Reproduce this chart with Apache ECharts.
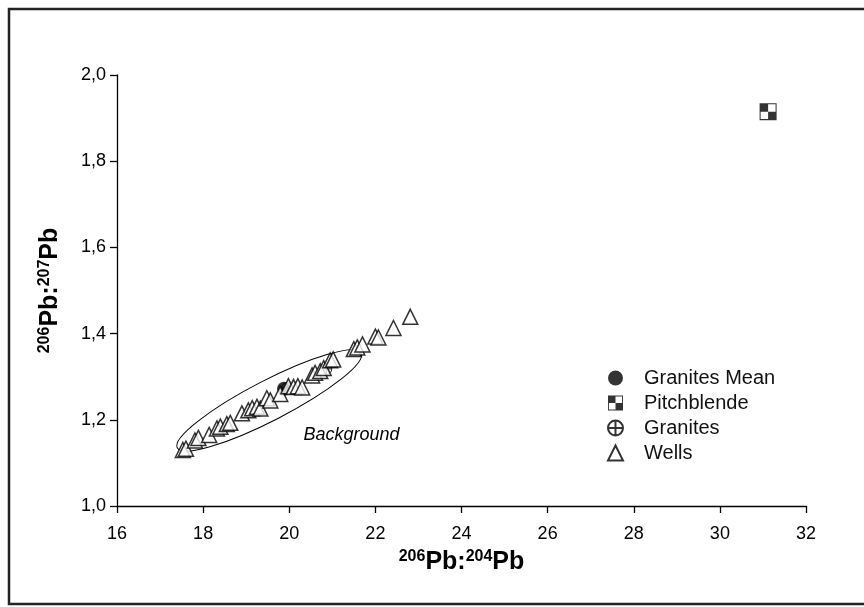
<!DOCTYPE html>
<html>
<head>
<meta charset="utf-8">
<script src="https://cdn.jsdelivr.net/npm/echarts@6/dist/echarts.min.js"></script>
<style>
    html, body { margin: 0; padding: 0; background: #fff; }
    #chart { width: 864px; height: 607px; }
</style>
</head>
<body>
<div id="chart"></div>
<script>
// 206Pb/204Pb vs 206Pb/207Pb
const wells = [
    [17.53, 1.130], [17.60, 1.133], [17.81, 1.152], [17.89, 1.158],
    [18.14, 1.165], [18.32, 1.180], [18.40, 1.184], [18.55, 1.190],
    [18.63, 1.193], [18.90, 1.215], [19.05, 1.222], [19.14, 1.227],
    [19.25, 1.230], [19.33, 1.226], [19.48, 1.250], [19.56, 1.245],
    [19.79, 1.260], [19.98, 1.278], [20.10, 1.276], [20.20, 1.278],
    [20.30, 1.275], [20.53, 1.303], [20.60, 1.309], [20.72, 1.313],
    [20.80, 1.320], [20.95, 1.338], [21.02, 1.340], [21.50, 1.364],
    [21.58, 1.368], [21.70, 1.375], [22.00, 1.393], [22.07, 1.391],
    [22.42, 1.413], [22.81, 1.439]
];
const granites = [[20.86, 1.318], [19.95, 1.274]];
const granitesMean = [[19.88, 1.272]];
const pitchblende = [[31.12, 1.915]];

const xTicks = [16, 18, 20, 22, 24, 26, 28, 30, 32];
const yTicks = ['1,0', '1,2', '1,4', '1,6', '1,8', '2,0'];

// "Background" envelope: ends of the long axis (data units)
const bgEnds = [[17.4, 1.135], [21.67, 1.355]];
const bgLabelAt = [20.33, 1.165];

const FONT = 'Liberation Sans, Arial, sans-serif';
// checkerboard square: two black quadrants + thin frame
const checker = 'path://M0,0H10V10H0Z M10,10H20V20H10Z M0,0H20V1.2H0Z M0,18.8H20V20H0Z M0,0H1.2V20H0Z M18.8,0H20V20H18.8Z';
const crossCircle = 'path://M0,10A10,10 0 1,1 20,10A10,10 0 1,1 0,10Z M0,10H20 M10,0V20';

const chart = echarts.init(document.getElementById('chart'));

const titleRich = {
    s: { fontSize: 16, fontWeight: 'bold', fontFamily: FONT, color: '#000', padding: [0, 0, 11, 0] },
    b: { fontSize: 25, fontWeight: 'bold', fontFamily: FONT, color: '#000' }
};

const option = {
    animation: false,
    backgroundColor: '#fff',
    grid: { left: 117, right: 58, top: 75, bottom: 101 },
    legend: {
        orient: 'vertical',
        left: 602,
        top: 363,
        itemWidth: 15,
        itemHeight: 15,
        itemGap: 5,
        textStyle: { fontSize: 20, color: '#111', fontFamily: FONT, padding: [0, 0, 0, 16] },
        data: ['Granites Mean', 'Pitchblende', 'Granites', 'Wells']
    },
    xAxis: {
        type: 'value',
        min: 16,
        max: 32,
        interval: 2,
        splitLine: { show: false },
        axisLine: { onZero: false, lineStyle: { color: '#000', width: 1.3 } },
        axisTick: { length: 7, lineStyle: { color: '#000', width: 1.3 } },
        axisLabel: { fontSize: 18, color: '#000', fontFamily: FONT, margin: 19,
            formatter: (v) => (xTicks.includes(v) ? String(v) : '') },
        name: '{s|206}{b|Pb:}{s|204}{b|Pb}',
        nameLocation: 'middle',
        nameGap: 43,
        nameTextStyle: { rich: titleRich }
    },
    yAxis: {
        type: 'value',
        min: 1.0,
        max: 2.0,
        interval: 0.2,
        splitLine: { show: false },
        axisLine: { onZero: false, lineStyle: { color: '#000', width: 1.3 } },
        axisTick: { length: 7, lineStyle: { color: '#000', width: 1.3 } },
        axisLabel: { fontSize: 18, color: '#000', fontFamily: FONT, margin: 11,
            formatter: (v) => yTicks[Math.round((v - 1) / 0.2)] || '' },
        name: '{s|206}{b|Pb:}{s|207}{b|Pb}',
        nameLocation: 'middle',
        nameGap: 53,
        nameRotate: 90,
        nameTextStyle: { rich: titleRich }
    },
    series: [
        {
            name: 'Granites Mean',
            type: 'scatter',
            symbol: 'circle',
            symbolSize: 14,
            itemStyle: { color: '#000' },
            data: granitesMean,
            z: 1
        },
        {
            name: 'Pitchblende',
            type: 'scatter',
            symbol: checker,
            symbolSize: 17,
            itemStyle: { color: '#000' },
            data: pitchblende
        },
        {
            name: 'Granites',
            type: 'scatter',
            symbol: crossCircle,
            symbolSize: 11,
            itemStyle: { color: 'rgba(255,255,255,0)', borderColor: '#000', borderWidth: 1 },
            data: granites,
            z: 2
        },
        {
            name: 'Wells',
            type: 'scatter',
            symbol: 'triangle',
            symbolSize: 15,
            itemStyle: { color: '#fff', borderColor: '#000', borderWidth: 1.5 },
            data: wells,
            z: 3
        }
    ]
};
chart.setOption(option);

// envelope + label, placed through the axes
const p0 = chart.convertToPixel({ gridIndex: 0 }, bgEnds[0]);
const p1 = chart.convertToPixel({ gridIndex: 0 }, bgEnds[1]);
const pl = chart.convertToPixel({ gridIndex: 0 }, bgLabelAt);
const cx = (p0[0] + p1[0]) / 2;
const cy = (p0[1] + p1[1]) / 2;
const rx = Math.hypot(p1[0] - p0[0], p1[1] - p0[1]) / 2;
const ang = Math.atan2(p0[1] - p1[1], p1[0] - p0[0]);

chart.setOption({
    graphic: [
        {
            type: 'rect',
            shape: { x: 9, y: 9, width: 900, height: 595 },
            style: { fill: 'none', stroke: '#222', lineWidth: 2.5 },
            silent: true
        },
        {
            type: 'ellipse',
            x: cx,
            y: cy,
            rotation: ang,
            shape: { cx: 0, cy: 0, rx: rx, ry: 20 },
            style: { fill: 'none', stroke: '#000', lineWidth: 1 },
            z: 0,
            silent: true
        },
        {
            type: 'text',
            x: pl[0],
            y: pl[1],
            style: { text: 'Background', fontSize: 18, fontStyle: 'italic', fontFamily: FONT,
                fill: '#000', verticalAlign: 'middle' },
            silent: true
        }
    ]
});
</script>
</body>
</html>
